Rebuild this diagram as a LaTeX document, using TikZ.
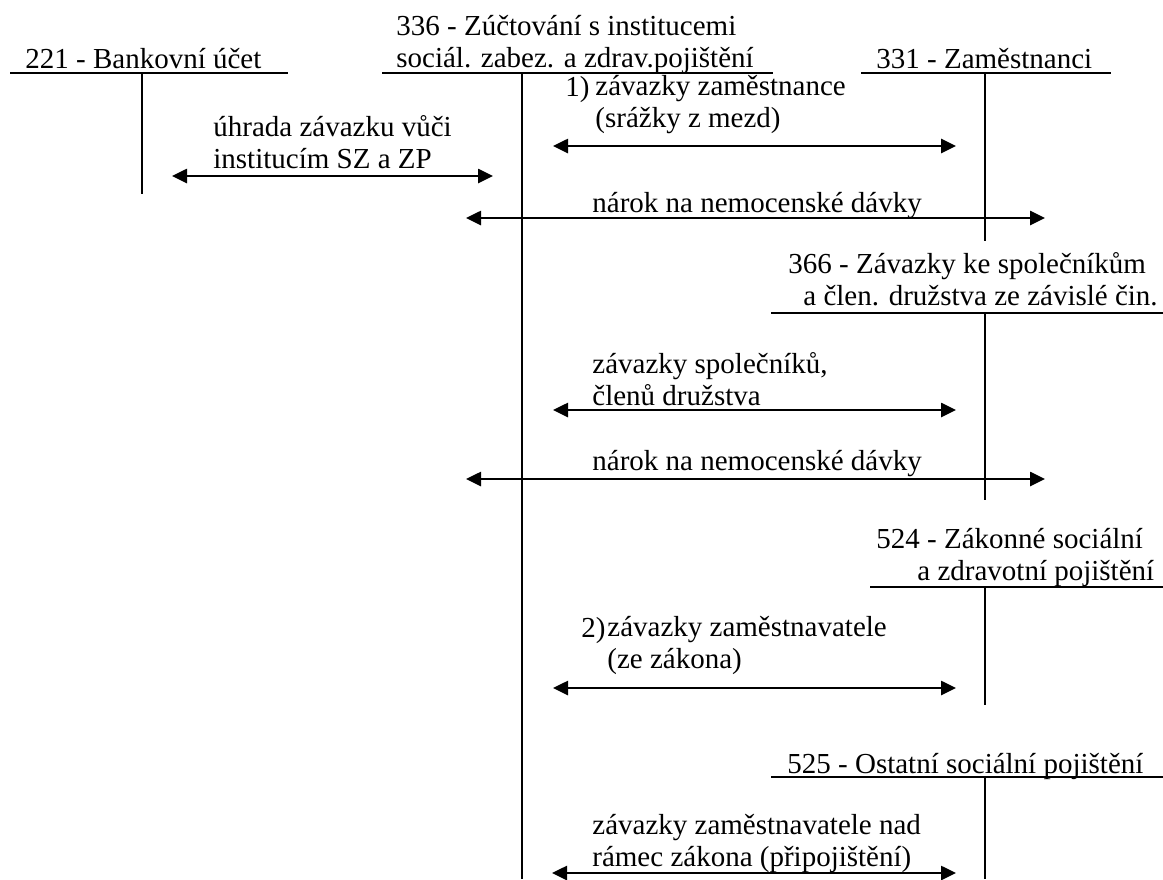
\documentclass[tikz,border=0pt]{standalone}
\usepackage{fontspec}
\setmainfont{Liberation Serif}
\usetikzlibrary{arrows.meta}

\tikzstyle{acc}=[anchor=base west,inner sep=0pt,align=left,font=\fontsize{14.5}{16}\selectfont]
\tikzstyle{lab}=[anchor=base west,inner sep=0pt,align=left,font=\fontsize{14.5}{16}\selectfont]
\tikzstyle{tline}=[line width=1pt]
\tikzstyle{both}=[{Triangle[length=7.5pt,width=7pt]}-{Triangle[length=7.5pt,width=7pt]},line width=1.3pt]

\begin{document}
\begin{tikzpicture}[x=0.5pt,y=-0.5pt]
\useasboundingbox (0,0) rectangle (1163,879);

%Accounts on top (base = last line)
\node [acc] at (25,68) (ba) {221 - Bankovní účet};
\draw [tline] (10,73) -- (288,73);
\draw [tline] (142,73) -- (142,194);

\node [acc] at (396,67) (zu) {336 - Zúčtování s institucemi\\sociál. zabez. a zdrav.pojištění};
\draw [tline] (382,73) -- (773,73);
\draw [tline] (522,73) -- (522,879);

\node [acc] at (876,68) (za) {331 - Zaměstnanci};
\draw [tline] (861,73) -- (1111,73);
\draw [tline] (985,73) -- (985,241);

%Accounts on the right
\node [acc] at (788,305) (sp) {366 - Závazky ke společníkům\\\hspace{7.5pt}a člen. družstva ze závislé čin.};
\draw [tline] (771,313) -- (1163,313);
\draw [tline] (985,313) -- (985,500);

\node [acc] at (876,580) (zs) {524 - Zákonné sociální\\\hspace{20.5pt}a zdravotní pojištění};
\draw [tline] (870,587) -- (1163,587);
\draw [tline] (985,587) -- (985,705);

\node [acc] at (787,773) (os) {525 - Ostatní sociální pojištění};
\draw [tline] (771,777) -- (1163,777);
\draw [tline] (985,777) -- (985,879);

%Arrow ends
\coordinate (u1) at (172,176);  \coordinate (u2) at (493,176);
\coordinate (a1) at (553,146);  \coordinate (a2) at (956,146);
\coordinate (n1) at (466,218);  \coordinate (n2) at (1045,218);
\coordinate (s1) at (553,410);  \coordinate (s2) at (956,410);
\coordinate (m1) at (466,479);  \coordinate (m2) at (1045,479);
\coordinate (z1) at (553,688);  \coordinate (z2) at (956,688);
\coordinate (p1) at (552,873);  \coordinate (p2) at (956,873);

\draw [both] (u1) -- (u2);
\draw [both] (a1) -- (a2);
\draw [both] (n1) -- (n2);
\draw [both] (s1) -- (s2);
\draw [both] (m1) -- (m2);
\draw [both] (z1) -- (z2);
\draw [both] (p1) -- (p2);

%Labels
\node [lab] at (213,168) (uh) {úhrada závazku vůči\\institucím SZ a ZP};
\node [lab] at (565,96) (c1) {1)};
\node [lab] at (595,127) (zz) {závazky zaměstnance\\(srážky z mezd)};
\node [lab] at (592,212) (na) {nárok na nemocenské dávky};
\node [lab] at (592,405) (zs2) {závazky společníků,\\členů družstva};
\node [lab] at (592,470) (nb) {nárok na nemocenské dávky};
\node [lab] at (581,637) (c2) {2)};
\node [lab] at (607,668) (zl) {závazky zaměstnavatele\\(ze zákona)};
\node [lab] at (592,866) (zn) {závazky zaměstnavatele nad\\rámec zákona (připojištění)};

\end{tikzpicture}
\end{document}
